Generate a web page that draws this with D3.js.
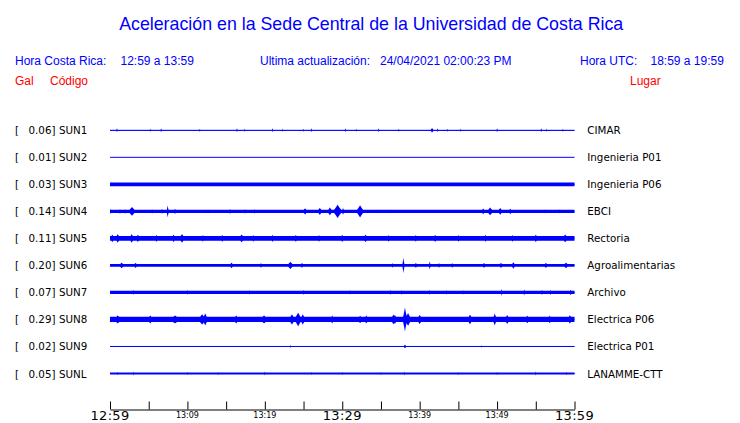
<!DOCTYPE html>
<html><head><meta charset="utf-8">
<script src="https://cdn.jsdelivr.net/npm/d3@7"></script>
<style>body{margin:0;background:#fff}svg{display:block}</style>
</head><body>
<svg id="c" width="740" height="423"></svg>
<script>
// ---------- data ----------
const titleText = "Aceleración en la Sede Central de la Universidad de Costa Rica";
const localRange = "12:59 a 13:59";
const utcRange = "18:59 a 19:59";
const updated = "24/04/2021 02:00:23 PM";

const codes  = ["SUN1","SUN2","SUN3","SUN4","SUN5","SUN6","SUN7","SUN8","SUN9","SUNL"];
const places = ["CIMAR","Ingenieria P01","Ingenieria P06","EBCI","Rectoria","Agroalimentarias","Archivo","Electrica P06","Electrica P01","LANAMME-CTT"];
const peakGal = ["0.06","0.01","0.03","0.14","0.11","0.20","0.07","0.29","0.02","0.05"];

// background (noise) amplitude of each trace, relative to full scale
const baseAmp = [0.03, 0.0, 0.15, 0.12, 0.19, 0.1, 0.13, 0.2, 0.02, 0.07];

// bursts per trace: [minute after 12:59, relative amplitude, half-duration in minutes]
const bursts1 = [[0.9,0.15,0.12],[5.2,0.12,0.1],[6.6,0.15,0.12],[11.6,0.12,0.1],[16.4,0.15,0.12],[17.4,0.12,0.1],[21,0.15,0.12],[22.3,0.12,0.1],[25,0.12,0.1],[26,0.15,0.12],[30.4,0.15,0.12],[31.8,0.12,0.1],[34.7,0.15,0.12],[37.3,0.12,0.1],[41.6,0.18,0.3],[42.3,0.15,0.12],[43.6,0.12,0.1],[45.3,0.12,0.1],[50,0.15,0.12],[55.7,0.15,0.12],[56.4,0.12,0.1],[58.5,0.12,0.1]];
const bursts2 = [];
const bursts3 = [];
const bursts4 = [[0.05,0.2,0.15],[1.29,0.2,0.15],[1.94,0.2,0.15],[2.84,0.34,0.7],[5.43,0.18,0.15],[6.72,0.2,0.2],[7.45,0.46,0.2],[8.4,0.2,0.3],[12.66,0.16,0.15],[15.5,0.2,0.2],[17.44,0.17,0.3],[18.7,0.17,0.3],[25.2,0.24,0.5],[27.1,0.27,0.5],[28.4,0.3,0.5],[29.4,0.52,0.8],[30.1,0.25,0.3],[32.3,0.47,0.7],[34.5,0.16,0.15],[36.2,0.16,0.15],[48.2,0.22,0.4],[49.1,0.3,0.6],[50.4,0.26,0.5],[51.7,0.21,0.4],[56.2,0.16,0.2],[58.1,0.16,0.2]];
const bursts5 = [[0.3,0.3,0.4],[1.0,0.33,0.5],[2.8,0.33,0.5],[3.6,0.28,0.5],[6,0.27,0.4],[8.2,0.28,0.5],[9.3,0.33,0.6],[12,0.26,0.4],[14.5,0.27,0.4],[17,0.3,0.6],[18.5,0.26,0.4],[21,0.27,0.4],[24,0.26,0.5],[27,0.26,0.4],[30,0.27,0.5],[33,0.28,0.6],[36,0.26,0.4],[39.5,0.26,0.4],[42,0.27,0.5],[45,0.26,0.4],[48.5,0.27,0.4],[52,0.26,0.4],[55,0.28,0.5],[58.8,0.3,0.6]];
const bursts6 = [[1.5,0.22,0.5],[3.3,0.2,0.4],[15.7,0.22,0.4],[19.5,0.18,0.3],[23.3,0.28,0.6],[24.8,0.2,0.3],[36.5,0.17,0.3],[37.9,0.6,0.2],[39.5,0.17,0.6],[41.3,0.3,0.2],[42.5,0.16,0.5],[44.2,0.18,0.3],[48.3,0.18,0.5],[50.5,0.2,0.4],[52.1,0.25,0.4],[56.3,0.2,0.4],[58.9,0.22,0.5]];
const bursts7 = [[3,0.2,0.15],[10,0.2,0.15],[18,0.18,0.15],[25,0.2,0.15],[31,0.18,0.15],[36.2,0.2,0.15],[37.7,0.19,0.15],[41.3,0.2,0.15],[43.5,0.18,0.15],[45.6,0.18,0.15],[50.6,0.27,0.15],[53.5,0.25,0.15],[55.8,0.2,0.2],[56.9,0.2,0.2],[59.5,0.2,0.3]];
const bursts8 = [[1.0,0.31,0.8],[5.2,0.31,0.6],[8.4,0.3,1.2],[11.9,0.4,0.8],[12.3,0.47,0.5],[16.3,0.31,0.6],[19.9,0.31,0.8],[23.5,0.4,0.6],[24.3,0.53,0.7],[24.9,0.4,0.5],[28.7,0.31,0.4],[32.3,0.3,0.5],[33.1,0.31,0.5],[36.6,0.38,0.5],[36.8,0.35,0.5],[38.1,0.93,0.4],[38.5,0.5,0.6],[40,0.35,0.6],[46.5,0.38,0.5],[49.7,0.46,0.4],[51.3,0.35,0.5],[53.9,0.3,0.5],[56.8,0.3,0.4],[59.4,0.33,0.5]];
const bursts9 = [[23.3,0.1,0.15],[38.1,0.15,0.25],[48,0.08,0.15]];
const bursts10 = [[1,0.13,0.15],[3,0.15,0.15],[10,0.12,0.15],[14,0.12,0.15],[20,0.15,0.15],[26,0.12,0.15],[30,0.12,0.15],[35,0.12,0.15],[38,0.15,0.15],[45,0.12,0.15],[50,0.13,0.15],[55,0.15,0.15],[59,0.13,0.15]];
const burstSets = [bursts1,bursts2,bursts3,bursts4,bursts5,bursts6,bursts7,bursts8,bursts9,bursts10];

const tickMinutes = [0,5,10,15,20,25,30,35,40,45,50,55,60];
const bigLabels   = [[0,"12:59"],[30,"13:29"],[60,"13:59"]];
const smallLabels = [[10,"13:09"],[20,"13:19"],[40,"13:39"],[50,"13:49"]];

// ---------- drawing ----------
const svg = d3.select("#c");
const BLUE = "#0000ff", RED = "#ff0000";

svg.append("text").attr("x",371.2).attr("y",29.5).attr("text-anchor","middle")
  .attr("font-family","Liberation Sans, Arial, sans-serif").attr("font-size",17.8)
  .attr("fill",BLUE).text(titleText);

const hdr = (x,y,t,c)=>svg.append("text").attr("x",x).attr("y",y)
  .attr("font-family","Liberation Sans, Arial, sans-serif").attr("font-size",12)
  .attr("fill",c).text(t);
hdr(15,65,"Hora Costa Rica:",BLUE);
hdr(120.5,65,localRange,BLUE);
hdr(260,65,"Ultima actualización:",BLUE);
hdr(380,65,updated,BLUE);
hdr(580,65,"Hora UTC:",BLUE);
hdr(650.5,65,utcRange,BLUE);
hdr(15,85,"Gal",RED);
hdr(50,85,"Código",RED);
hdr(630,85,"Lugar",RED);

const x = d3.scaleLinear().domain([0,60]).range([110,574.5]);
const row = d3.scaleLinear().domain([0,9]).range([130.3,373.5]);
const amp = d3.scaleLinear().domain([0,1]).range([0,13]);

const lblFont = "DejaVu Sans, sans-serif";
codes.forEach((code,i)=>{
  const yc = row(i);
  const g = svg.append("g");
  g.append("text").attr("x",15).attr("y",yc+4).attr("font-family",lblFont).attr("font-size",10.3).text("[");
  g.append("text").attr("x",55.5).attr("y",yc+4).attr("text-anchor","end").attr("font-family",lblFont).attr("font-size",10.3).text(peakGal[i]+"]");
  g.append("text").attr("x",59).attr("y",yc+4).attr("font-family",lblFont).attr("font-size",10.3).text(code);
  g.append("text").attr("x",587.3).attr("y",yc+4).attr("font-family",lblFont).attr("font-size",10.3).text(places[i]);

  // envelope: background level plus spindle-shaped bursts
  const bs = burstSets[i];
  const env = t => {
    let e = baseAmp[i];
    bs.forEach(([tb,a,d])=>{
      const r = 1-Math.abs(t-tb)/d;
      if(r>0){ const v = a*Math.pow(r,1.6); if(v>e) e=v; }
    });
    return e;
  };
  const samples = d3.range(0,60.0001,0.01).map(t=>({t,e:env(t)}));
  const area = d3.area().x(d=>x(d.t)).y0(d=>yc-amp(d.e)).y1(d=>yc+amp(d.e));
  g.append("path").attr("d",area(samples)).attr("fill",BLUE);
  g.append("line").attr("x1",x(0)).attr("x2",x(60)).attr("y1",yc).attr("y2",yc)
    .attr("stroke",BLUE).attr("stroke-width",1);
});

// axis
const ax = svg.append("g").attr("transform","translate(0,409.5)")
  .call(d3.axisBottom(x).tickValues(tickMinutes).tickSize(-8).tickSizeOuter(0).tickFormat(""));
ax.select(".domain").attr("stroke","#000");
ax.selectAll(".tick line").attr("stroke","#000");
bigLabels.forEach(([m,t])=>svg.append("text").attr("x",x(m)).attr("y",419.5).attr("text-anchor","middle")
  .attr("font-family",lblFont).attr("font-size",13).attr("letter-spacing",0.3).text(t));
smallLabels.forEach(([m,t])=>svg.append("text").attr("x",x(m)).attr("y",417.5).attr("text-anchor","middle")
  .attr("font-family",lblFont).attr("font-size",8).text(t));
</script>
</body></html>
